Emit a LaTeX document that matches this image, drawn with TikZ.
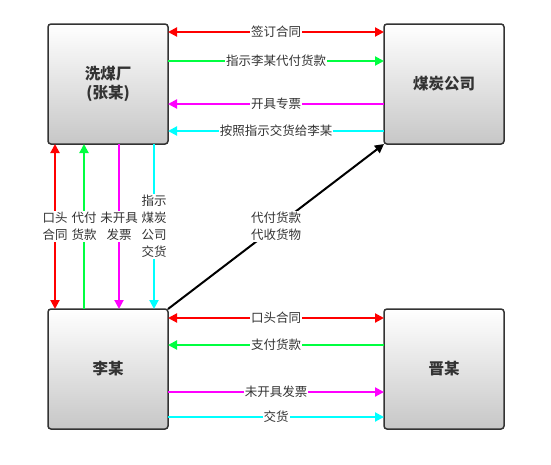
\documentclass[tikz,border=0pt]{standalone}
\usepackage{fontspec}
\setmainfont{Noto Sans CJK SC}
\usetikzlibrary{arrows.meta,calc}
\definecolor{boxline}{HTML}{333333}
\definecolor{labelgray}{HTML}{333333}
\definecolor{flowred}{HTML}{FF0000}
\definecolor{flowgreen}{HTML}{00FF40}
\definecolor{flowpink}{HTML}{FF00FF}
\definecolor{flowcyan}{HTML}{00FFFF}
\tikzset{
  partybox/.style={
    draw=boxline,
    line width=1.5pt,
    top color=white,
    bottom color=black!22,
    rounded corners=3pt,
    align=center,
    inner sep=0pt,
    outer sep=0pt,
    minimum width=120pt,
    minimum height=120pt,
    font=\fontsize{15.5}{19}\selectfont\bfseries,
    text=labelgray
  },
  flowlabel/.style={
    midway,
    fill=white,
    inner sep=1pt,
    align=center,
    text=labelgray,
    font=\fontsize{12.5}{17}\selectfont
  },
  flowarrow/.style={line width=2pt, arrows={-{Triangle[length=9pt,width=9pt]}}},
  flowboth/.style={line width=2pt, arrows={{Triangle[length=9pt,width=9pt]}-{Triangle[length=9pt,width=9pt]}}}
}
\begin{document}
\begin{tikzpicture}[x=1pt,y=-1pt]
\useasboundingbox (0,0) rectangle (551,464);

\node[partybox] (xmc) at (108,84) {洗煤厂\\(张某)};
\node[partybox] (mt) at (444,84) {煤炭公司};
\node[partybox] (lm) at (108,369) {李某};
\node[partybox] (jm) at (444,369) {晋某};

% washery <-> coal company
\draw[flowboth, draw=flowred, color=flowred] ([yshift=-8pt]xmc.north east) -- ([yshift=-8pt]mt.north west) node[flowlabel] {签订合同};
\draw[flowarrow, draw=flowgreen, color=flowgreen] ([yshift=-37pt]xmc.north east) -- ([yshift=-37pt]mt.north west) node[flowlabel] {指示李某代付货款};
\draw[flowarrow, draw=flowpink, color=flowpink] ([yshift=-80pt]mt.north west) -- ([yshift=-80pt]xmc.north east) node[flowlabel] {开具专票};
\draw[flowarrow, draw=flowcyan, color=flowcyan] ([yshift=-107pt]mt.north west) -- ([yshift=-107pt]xmc.north east) node[flowlabel] {按照指示交货给李某};

% washery <-> li
\draw[flowboth, draw=flowred, color=flowred] ([xshift=7pt]xmc.south west) -- ([xshift=7pt]lm.north west) node[flowlabel] {口头\\合同};
\draw[flowarrow, draw=flowgreen, color=flowgreen] ([xshift=36pt]lm.north west) -- ([xshift=36pt]xmc.south west) node[flowlabel] {代付\\货款};
\draw[flowarrow, draw=flowpink, color=flowpink] ([xshift=71pt]xmc.south west) -- ([xshift=71pt]lm.north west) node[flowlabel] {未开具\\发票};
\draw[flowarrow, draw=flowcyan, color=flowcyan] ([xshift=106pt]xmc.south west) -- ([xshift=106pt]lm.north west) node[flowlabel] {指示\\煤炭\\公司\\交货};

% li -> coal company
\draw[flowarrow, draw=black] (lm.north east) -- (mt.south west) node[flowlabel] {代付货款\\代收货物};

% li <-> jin
\draw[flowboth, draw=flowred, color=flowred] ([yshift=-9pt]lm.north east) -- ([yshift=-9pt]jm.north west) node[flowlabel] {口头合同};
\draw[flowarrow, draw=flowgreen, color=flowgreen] ([yshift=-36pt]jm.north west) -- ([yshift=-36pt]lm.north east) node[flowlabel] {支付货款};
\draw[flowarrow, draw=flowpink, color=flowpink] ([yshift=-83pt]lm.north east) -- ([yshift=-83pt]jm.north west) node[flowlabel] {未开具发票};
\draw[flowarrow, draw=flowcyan, color=flowcyan] ([yshift=-108pt]lm.north east) -- ([yshift=-108pt]jm.north west) node[flowlabel] {交货};
\end{tikzpicture}
\end{document}
